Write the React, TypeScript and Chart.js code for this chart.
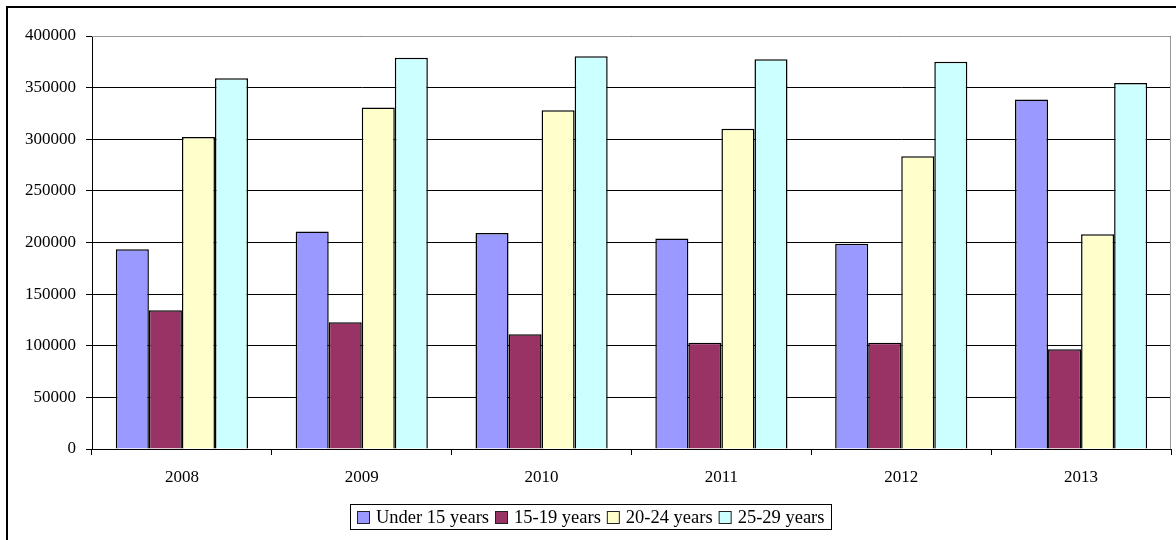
import React, { useEffect, useRef } from "react";
import { Chart, registerables } from "chart.js";

Chart.register(...registerables);

const categories = ["2008", "2009", "2010", "2011", "2012", "2013"];
const seriesLabels = ["Under 15 years", "15-19 years", "20-24 years", "25-29 years"];
const under15 = [193500, 210600, 209300, 203800, 198700, 338500];
const age15to19 = [134400, 122800, 111100, 103000, 103000, 96600];
const age20to24 = [302100, 330800, 328200, 310100, 283600, 208000];
const age25to29 = [359200, 378900, 380500, 377600, 375000, 354400];
const yMin = 0;
const yMax = 400000;
const yStep = 50000;

const seriesColors = ["#9999FF", "#993366", "#FFFFCC", "#CCFFFF"];
const FONT = "'Liberation Serif', 'Times New Roman', Times, 'DejaVu Serif', serif";

const framePlugin = {
  id: "frame",
  beforeDraw(chart: any) {
    const ctx = chart.ctx;
    ctx.save();
    ctx.fillStyle = "#ffffff";
    ctx.fillRect(0, 0, chart.width, chart.height);
    ctx.fillStyle = "#000000";
    ctx.fillRect(6, 6, 2, chart.height);
    ctx.fillRect(6, 6, chart.width, 2);
    ctx.restore();
  },
  afterDatasetsDraw(chart: any) {
    const { ctx, chartArea } = chart;
    ctx.save();
    ctx.strokeStyle = "#999999";
    ctx.lineWidth = 1;
    ctx.beginPath();
    ctx.moveTo(chartArea.left, chartArea.top + 0.5);
    ctx.lineTo(chartArea.right - 0.5, chartArea.top + 0.5);
    ctx.lineTo(chartArea.right - 0.5, chartArea.bottom);
    ctx.stroke();
    ctx.restore();
  },
};

const legendPlugin = {
  id: "boxLegend",
  afterDraw(chart: any) {
    const ctx = chart.ctx;
    ctx.save();
    ctx.font = "18.5px " + FONT;
    ctx.textBaseline = "middle";
    const box = 13;
    const gapBoxText = 6;
    const itemGap = 6;
    const padX = 7;
    const items = chart.data.datasets.map((ds: any) => ({
      label: ds.label,
      color: ds.backgroundColor,
      w: ctx.measureText(ds.label).width,
    }));
    const inner =
      items.reduce((s: number, it: any) => s + box + gapBoxText + it.w, 0) +
      itemGap * (items.length - 1);
    const total = Math.round(inner + padX * 2);
    const cx = 590.5;
    const top = 504;
    const h = 25;
    const left = Math.round(cx - total / 2);
    ctx.strokeStyle = "#000000";
    ctx.lineWidth = 1;
    ctx.strokeRect(left + 0.5, top + 0.5, total, h);
    let x = left + padX;
    const cy = top + h / 2 + 0.5;
    const boxTop = Math.round(cy - box / 2);
    items.forEach((it: any) => {
      ctx.fillStyle = it.color;
      ctx.fillRect(x, boxTop, box, box);
      ctx.strokeStyle = "#222222";
      ctx.strokeRect(x + 0.5, boxTop + 0.5, box - 1, box - 1);
      x += box + gapBoxText;
      ctx.fillStyle = "#000000";
      ctx.fillText(it.label, x, cy + 1);
      x += it.w + itemGap;
    });
    ctx.restore();
  },
};

export default function App() {
  const canvasRef = useRef<HTMLCanvasElement | null>(null);

  useEffect(() => {
    let chart: any = null;
    let cancelled = false;
    const build = () => {
      if (cancelled || !canvasRef.current) return;
      const seriesData = [under15, age15to19, age20to24, age25to29];
      chart = new Chart(canvasRef.current, {
        type: "bar",
        data: {
          labels: categories,
          datasets: seriesLabels.map((label, i) => ({
            label,
            data: seriesData[i],
            backgroundColor: seriesColors[i],
            borderColor: "#000000",
            borderWidth: 1.5,
            categoryPercentage: 0.735,
            barPercentage: 1,
          })),
        },
        options: {
          responsive: false,
          animation: false,
          devicePixelRatio: 1,
          layout: { padding: { left: 0, top: 36, right: 5, bottom: 51 } },
          plugins: {
            legend: { display: false },
            tooltip: { enabled: false },
            title: { display: false },
          },
          scales: {
            x: {
              type: "category",
              offset: true,
              grid: {
                offset: true,
                drawOnChartArea: false,
                drawTicks: true,
                tickLength: 6,
                color: "#000000",
                lineWidth: 1,
              },
              border: { display: true, color: "#000000", width: 1 },
              ticks: {
                color: "#000000",
                font: { family: FONT, size: 17 },
                padding: 12,
                maxRotation: 0,
                autoSkip: false,
              },
              afterFit: (scale: any) => {
                scale.height = 40;
              },
            },
            y: {
              min: yMin,
              max: yMax,
              grid: {
                color: "#000000",
                lineWidth: 1,
                drawTicks: true,
                tickLength: 6,
              },
              border: { display: true, color: "#000000", width: 1 },
              ticks: {
                stepSize: yStep,
                color: "#000000",
                font: { family: FONT, size: 17 },
                padding: 10,
                callback: (v: any) => String(v),
              },
              afterFit: (scale: any) => {
                scale.width = 92;
              },
            },
          },
        },
        plugins: [framePlugin, legendPlugin],
      });
    };
    const fontsApi: any = (document as any).fonts;
    if (fontsApi && fontsApi.load) {
      Promise.all([
        fontsApi.load("17px 'Liberation Serif'"),
        fontsApi.load("18.5px 'Liberation Serif'"),
      ])
        .catch(() => null)
        .then(() => build());
    } else {
      build();
    }
    return () => {
      cancelled = true;
      if (chart) chart.destroy();
    };
  }, []);

  return (
    <div style={{ position: "absolute", left: 0, top: 0, width: 1176, height: 540 }}>
      <canvas ref={canvasRef} width={1176} height={540} style={{ display: "block" }} />
    </div>
  );
}
